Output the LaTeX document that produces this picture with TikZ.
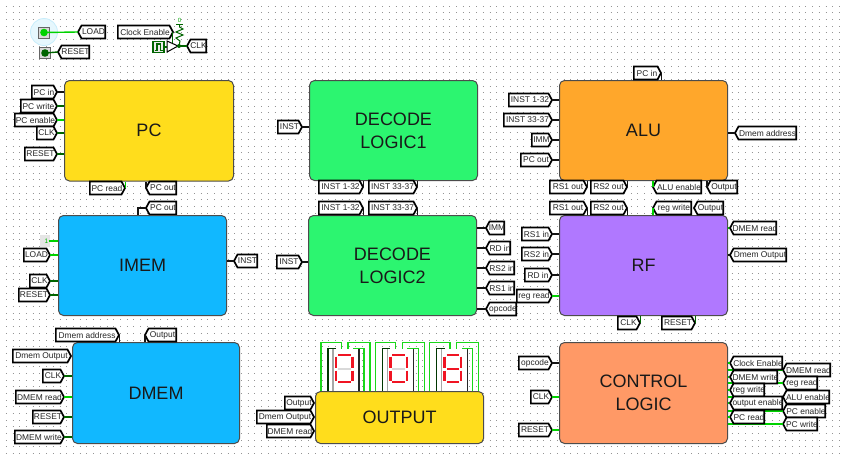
\documentclass[tikz,border=0pt]{standalone}
\usepackage{fontspec}
\setmainfont{Liberation Sans}
\definecolor{wireon}{RGB}{0,210,0}
\definecolor{wireoff}{RGB}{0,100,0}
\definecolor{bitbus}{RGB}{20,20,20}
\definecolor{pcyellow}{RGB}{255,221,28}
\definecolor{memblue}{RGB}{17,184,255}
\definecolor{decgreen}{RGB}{44,245,112}
\definecolor{aluorange}{RGB}{255,167,43}
\definecolor{rfviolet}{RGB}{176,120,255}
\definecolor{ctlorange}{RGB}{255,153,102}
\definecolor{segred}{RGB}{240,20,35}
\tikzset{
  tagline/.style={draw=black,line width=1.7pt,fill=white,line join=miter},
  tagtext/.style={inner sep=0pt,minimum height=13pt,font=\fontsize{8.4}{9}\selectfont,text=black!85},
  block/.style={draw=black!70,line width=1pt,rounded corners=5pt,font=\fontsize{18}{23}\selectfont,
    align=center,inner sep=0pt,text=black!90},
  on/.style={draw=wireon,line width=1.4pt},
  off/.style={draw=wireoff,line width=1.4pt},
  bus/.style={draw=bitbus,line width=1.4pt},
  loop/.style={draw=wireon!90!white,line width=1.3pt},
  seg/.style={draw=segred,line width=2.6pt}
}
% signal tag given by left edge, right edge and height; the point faces east or west
\newcommand{\tagE}[5]{%
  \path[tagline] ({#2+.85},{#4-6.5}) -- ({#3-3.5},{#4-6.5}) -- (#3,#4) -- ({#3-3.5},{#4+6.5}) -- ({#2+.85},{#4+6.5}) -- cycle;
  \node[tagtext,minimum width={(#3-#2)*1pt}] (#1) at ({(#2+#3)/2},#4) {#5\hspace{3pt}};}
\newcommand{\tagW}[5]{%
  \path[tagline] ({#3-.85},{#4-6.5}) -- ({#2+3.5},{#4-6.5}) -- (#2,#4) -- ({#2+3.5},{#4+6.5}) -- ({#3-.85},{#4+6.5}) -- cycle;
  \node[tagtext,minimum width={(#3-#2)*1pt}] (#1) at ({(#2+#3)/2},#4) {\hspace{3pt}#5};}
% functional block given by its corners
\newcommand{\blockbox}[7]{\node[block,fill=#6,minimum width={(#4-#2-1)*1pt},minimum height={(#5-#3-1)*1pt}] (#1) at ({(#2+#4)/2},{(#3+#5)/2}) {#7};}
\begin{document}
\begin{tikzpicture}[x=1pt,y=-1pt]
\useasboundingbox (0,0) rectangle (841,458);
\fill[white] (0,0) rectangle (841,458);
% canvas dots
\foreach \k in {0,...,67}
  \draw[black!42,line width=1pt,dash pattern=on 1pt off 5.72pt] (5.8,{6+\k*6.68}) -- (841,{6+\k*6.68});

% input pins
\fill[cyan!10] (44,32) circle (13.5);
\draw[cyan!22,line width=.8pt] (44,32) circle (13.5);
\node[draw=black!60,fill=black!15,line width=1pt,minimum size=11pt,inner sep=0pt] (pinload) at (44,32.5) {};
\fill[wireon] (pinload.center) circle (3.8);
\node[draw=black!60,fill=black!15,line width=1pt,minimum size=11pt,inner sep=0pt] (pinreset) at (45,53) {};
\fill[wireoff] (pinreset.center) circle (3.8);
\tagW{tload}{78}{106}{32}{LOAD}
\tagW{treset}{58}{90}{52}{RESET}
\draw[on] (pinload.center) -- (tload.west);
\draw[off] (pinreset.center) -- (treset.west);

% gated clock source
\tagE{tce}{117}{173}{32}{Clock Enable}
\tagW{tclk}{187}{207}{46}{CLK}
\coordinate (ckout) at (179,46);
\node[draw=wireoff,fill=black!8,line width=1.1pt,minimum size=11pt,inner sep=0pt] (clksrc) at (158.5,47) {};
\draw[wireoff,line width=1.1pt] (154.5,50.5) -- (157,50.5) -- (157,44) -- (160.5,44) -- (160.5,50.5) -- (163,50.5);
\draw[black,fill=white,line width=1pt] (167,41) -- (178,46) -- (167,52) -- cycle;
\draw[off] (172.5,32) -- (172.5,43);
\draw[off] (clksrc.east) -- (167,47);
\draw[off] (178,46) -- (tclk.west);
\fill[wireoff] (ckout) circle (2);
\draw[off,line width=1.1pt] (176,24.5) -- (183,24.5);
\draw[wireoff,line width=1pt] (179.5,24.5) -- (179.5,27) -- (183,29) -- (176,32) -- (183,35) -- (176,38) -- (180,41) -- (ckout);
\node[text=wireon!80!black,font=\fontsize{6}{6}\selectfont,inner sep=0pt] (ckzero) at (179.5,20.5) {0};

% program counter
\blockbox{pc}{64}{80}{234}{181.5}{pcyellow}{PC}
\tagE{pcin}{31}{57}{92}{PC in}
\tagE{pcwrite}{20}{57}{106}{PC write}
\tagE{pcenable}{14}{57}{120}{PC enable}
\tagE{pcclk}{36}{57}{133}{CLK}
\tagE{pcreset}{24}{57}{154}{RESET}
\tagE{pcread}{89}{125}{188}{PC read}
\tagW{pcout}{146}{177}{188}{PC out}
\tagW{pcoutb}{146}{177}{208}{PC out}
\draw[bus] (pcin.east) -- (pcin.east -| pc.west);
\draw[off] (pcwrite.east) -- (pcwrite.east -| pc.west);
\draw[on] (pcenable.east) -- (pcenable.east -| pc.west);
\draw[off] (pcclk.east) -- (pcclk.east -| pc.west);
\draw[off] (pcreset.east) -- (pcreset.east -| pc.west);
\draw[on] (pcread.east) -- (pcread.east |- pc.south);
\draw[bus] (pcout.west) -- (pcout.west |- pc.south);

% instruction memory
\blockbox{imem}{58}{215}{227}{316}{memblue}{IMEM}
\fill[black!10] (40,235) rectangle (50,247);
\node[text=wireon!85!black,font=\fontsize{6.5}{7}\selectfont,inner sep=0pt] (imone) at (46.5,241) {1};
\tagE{imload}{23}{50}{255}{LOAD}
\tagE{imclk}{29}{50}{281}{CLK}
\tagE{imreset}{18}{50}{295}{RESET}
\tagW{iminst}{234}{258}{261}{INST}
\draw[on] (imone.east) -- (imone.east -| imem.west);
\draw[on] (imload.east) -- (imload.east -| imem.west);
\draw[off] (imclk.east) -- (imclk.east -| imem.west);
\draw[off] (imreset.east) -- (imreset.east -| imem.west);
\draw[bus] (iminst.west) -- (iminst.west -| imem.east);
\coordinate (pcbend) at (138,208);
\draw[bus] (pcoutb.west) -- (pcbend) -- (pcbend |- imem.north);

% data memory
\blockbox{dmem}{72}{342}{240}{444}{memblue}{DMEM}
\tagE{dmaddr}{55}{119}{335}{Dmem address}
\tagW{dmout}{145}{177}{335}{Output}
\tagE{dmoutp}{12}{71}{356}{Dmem Output}
\tagE{dmclk}{42}{64}{376}{CLK}
\tagE{dmread}{15}{64}{397}{DMEM read}
\tagE{dmreset}{32}{64}{417}{RESET}
\tagE{dmwrite}{14}{64}{437}{DMEM write}
\draw[bus] (dmaddr.east) -- (dmaddr.east |- dmem.north);
\draw[bus] (dmout.west) -- (dmout.west |- dmem.north);
\draw[off] (dmclk.east) -- (dmclk.east -| dmem.west);
\draw[on] (dmread.east) -- (dmread.east -| dmem.west);
\draw[off] (dmreset.east) -- (dmreset.east -| dmem.west);
\draw[off] (dmwrite.east) -- (dmwrite.east -| dmem.west);

% instruction decoders
\blockbox{decA}{309}{80}{478}{181}{decgreen}{DECODE\\LOGIC1}
\tagE{daninst}{277}{302}{127}{INST}
\tagE{dai}{318}{363}{187}{INST 1-32}
\tagE{daj}{368}{417}{187}{INST 33-37}
\draw[bus] (daninst.east) -- (daninst.east -| decA.west);
\draw[bus] (dai.east) -- (dai.east |- decA.south);
\draw[bus] (daj.east) -- (daj.east |- decA.south);
\blockbox{decB}{308}{215}{477}{316}{decgreen}{DECODE\\LOGIC2}
\tagE{dbinst}{276}{302}{262}{INST}
\tagE{dbi}{318}{363}{208}{INST 1-32}
\tagE{dbj}{368}{417}{208}{INST 33-37}
\tagW{dbimm}{486}{505}{228}{IMM}
\tagW{dbrd}{486}{511}{248}{RD in}
\tagW{dbrs}{486}{515}{268}{RS2 in}
\tagW{dbra}{486}{515}{288}{RS1 in}
\tagW{dbop}{486}{517}{309}{opcode}
\draw[bus] (dbinst.east) -- (dbinst.east -| decB.west);
\draw[bus] (dbi.east) -- (dbi.east |- decB.north);
\draw[bus] (dbj.east) -- (dbj.east |- decB.north);
\draw[bus] (dbimm.west) -- (dbimm.west -| decB.east);
\draw[bus] (dbrd.west) -- (dbrd.west -| decB.east);
\draw[bus] (dbrs.west) -- (dbrs.west -| decB.east);
\draw[bus] (dbra.west) -- (dbra.west -| decB.east);
\draw[bus] (dbop.west) -- (dbop.west -| decB.east);

% arithmetic unit
\blockbox{alu}{559}{80}{728}{181}{aluorange}{ALU}
\tagE{alpc}{633}{661}{73}{PC in}
\tagE{ali}{508}{552}{100}{INST 1-32}
\tagE{alj}{503}{552}{120}{INST 33-37}
\tagE{alimm}{531}{552}{140}{IMM}
\tagE{alpco}{520}{552}{160}{PC out}
\tagW{aldm}{735}{797}{133}{Dmem address}
\tagE{alrsa}{549}{587}{187}{RS1 out}
\tagE{alrsb}{590}{627}{187}{RS2 out}
\tagW{alen}{653}{702}{187}{ALU enable}
\tagW{alout}{707}{738}{187}{Output}
\draw[bus] (alpc.east) -- (alpc.east |- alu.north);
\draw[bus] (ali.east) -- (ali.east -| alu.west);
\draw[bus] (alj.east) -- (alj.east -| alu.west);
\draw[bus] (alimm.east) -- (alimm.east -| alu.west);
\draw[bus] (alpco.east) -- (alpco.east -| alu.west);
\draw[bus] (aldm.west) -- (aldm.west -| alu.east);
\draw[bus] (alrsa.east) -- (alrsa.east |- alu.south);
\draw[bus] (alrsb.east) -- (alrsb.east |- alu.south);
\draw[on] (alen.west) -- (alen.west |- alu.south);
\draw[bus] (alout.west) -- (alout.west |- alu.south);

% register file
\blockbox{rf}{559}{215}{728}{316}{rfviolet}{RF}
\tagE{rfa}{549}{587}{208}{RS1 out}
\tagE{rfb}{590}{627}{208}{RS2 out}
\tagW{rfw}{653}{692}{208}{reg write}
\tagW{rfo}{694}{724}{208}{Output}
\tagE{rfia}{521}{552}{234}{RS1 in}
\tagE{rfib}{521}{552}{254}{RS2 in}
\tagE{rfrd}{524}{552}{275}{RD in}
\tagE{rfreg}{516}{552}{296}{reg read}
\tagW{rfdr}{730}{777}{228}{DMEM read}
\tagW{rfdo}{730}{787}{255}{Dmem Output}
\tagE{rfclk}{617}{640}{323}{CLK}
\tagE{rfreset}{661}{695}{323}{RESET}
\draw[bus] (rfa.east) -- (rfa.east |- rf.north);
\draw[bus] (rfb.east) -- (rfb.east |- rf.north);
\draw[on] (rfw.west) -- (rfw.west |- rf.north);
\draw[bus] (rfia.east) -- (rfia.east -| rf.west);
\draw[bus] (rfib.east) -- (rfib.east -| rf.west);
\draw[bus] (rfrd.east) -- (rfrd.east -| rf.west);
\draw[on] (rfreg.east) -- (rfreg.east -| rf.west);
\draw[on] (rfdr.west) -- (rfdr.west -| rf.east);
\draw[bus] (rfdo.west) -- (rfdo.west -| rf.east);
\draw[off] (rfclk.east) -- (rfclk.east |- rf.south);
\draw[off] (rfreset.east) -- (rfreset.east |- rf.south);

% seven-segment displays above the output block
\foreach \dx/\mid in {0/black!15,54.3/black!15,108.6/segred}{
  \begin{scope}[xshift=\dx pt]
    \fill[white] (332,348) rectangle (359,391);
    \draw[black!35,line width=1.2pt] (333,349) -- (333,391);
    \draw[loop] (321,391) -- (321,342.5) -- (341.5,342.5) -- (341.5,348.5);
    \draw[loop] (370,391) -- (370,342.5) -- (348,342.5) -- (348,348.5);
    \draw[loop] (364,391) -- (364,348.5) -- (353,348.5);
    \draw[wireoff!55!black,line width=1.2pt] (328,391) -- (328,348.5) -- (336,348.5);
    \draw[black!85,line width=1.2pt] (359,348.5) -- (359,391);
    \draw[seg,draw=\mid] (338,369) -- (350.5,369);
    \draw[seg] (338,355) -- (350.5,355);
    \draw[seg] (338,382) -- (350.5,382);
    \draw[seg] (336,356.5) -- (336,367.5);
    \draw[seg] (336,370.5) -- (336,380.5);
    \draw[seg] (352.5,356.5) -- (352.5,367.5);
    \draw[seg] (352.5,370.5) -- (352.5,380.5);
  \end{scope}
}

% output block
\blockbox{outp}{315}{391}{484}{444}{pcyellow}{OUTPUT}
\tagE{ouo}{284}{314}{403}{Output}
\tagE{oud}{256}{314}{417}{Dmem Output}
\tagE{our}{266}{314}{431}{DMEM read}

% control logic: outer column goes first so the inner tags cover its wires
\blockbox{ctl}{559}{342}{728}{444}{ctlorange}{CONTROL\\LOGIC}
\tagE{ctop}{518}{552}{363}{opcode}
\tagE{ctclk}{530}{552}{397}{CLK}
\tagE{ctreset}{518}{552}{430}{RESET}
\draw[bus] (ctop.east) -- (ctop.east -| ctl.west);
\draw[on] (ctclk.east) -- (ctclk.east -| ctl.west);
\draw[on] (ctreset.east) -- (ctreset.east -| ctl.west);
\tagW{cfdr}{783}{831}{370}{DMEM read}
\tagW{cfrr}{783}{818}{383}{reg read}
\tagW{cfae}{783}{830}{397}{ALU enable}
\tagW{cfpe}{783}{826}{411}{PC enable}
\tagW{cfpw}{783}{818}{424}{PC write}
\foreach \n in {cfdr,cfrr,cfae,cfpe,cfpw}
  \draw[on] (\n.west) -- (\n.west -| ctl.east);
\tagW{cnce}{730}{783}{363}{Clock Enable}
\tagW{cndw}{730}{778}{377}{DMEM write}
\tagW{cnrw}{730}{765}{390}{reg write}
\tagW{cnoe}{730}{783}{403}{output enable}
\tagW{cnpr}{730}{765}{417}{PC read}
\foreach \n in {cnce,cndw,cnrw,cnoe,cnpr}
  \draw[on] (\n.west) -- (\n.west -| ctl.east);
\end{tikzpicture}
\end{document}
